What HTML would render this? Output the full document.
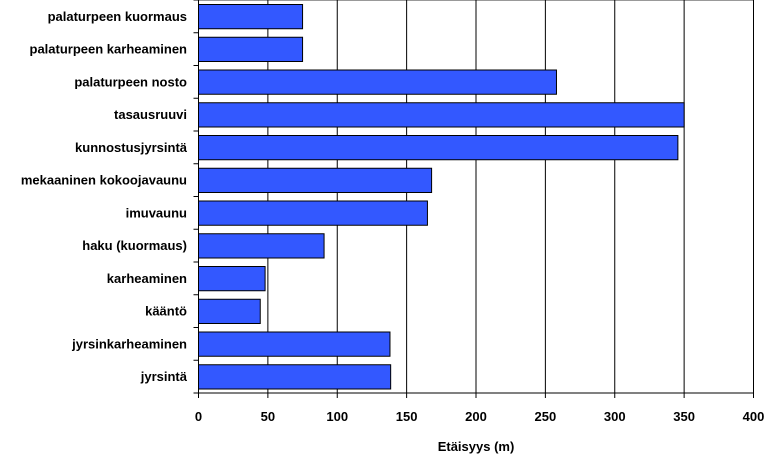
<!DOCTYPE html>
<html><head><meta charset="utf-8"><style>
html,body{margin:0;padding:0;background:#fff;}
svg{display:block;font-family:"Liberation Sans",Arial,sans-serif;font-weight:bold;}
</style></head><body>
<svg id="chart" width="772" height="462"></svg>
<script>
const categories=["palaturpeen kuormaus","palaturpeen karheaminen","palaturpeen nosto","tasausruuvi","kunnostusjyrsintä","mekaaninen kokoojavaunu","imuvaunu","haku (kuormaus)","karheaminen","kääntö","jyrsinkarheaminen","jyrsintä"];
const values=[75,75,258,350,345.5,168,165,90.5,48,44.5,138,138.5];
const ticks=[0,50,100,150,200,250,300,350,400];
const xTitle="Etäisyys (m)";

const NS="http://www.w3.org/2000/svg";
const svg=document.getElementById('chart');
const x0=198.5,x1=753.5,topY=0,bottom=393;
const rowH=(bottom-topY)/categories.length;
const xs=v=>x0+(v-0)/(400-0)*(x1-x0);
function mk(t,a,p){const e=document.createElementNS(NS,t);for(const k in a)e.setAttribute(k,a[k]);(p||svg).appendChild(e);return e;}

const topLine=mk('line',{x1:x0,y1:0.5,x2:x1,y2:0.5,stroke:'#999','stroke-width':1});



ticks.forEach(t=>{
  if(t>0){
    const g=mk('line',{x1:xs(t),y1:topY,x2:xs(t),y2:bottom,stroke:'#000','stroke-width':1});
    
    
  }
  const tk=mk('line',{x1:xs(t),y1:bottom,x2:xs(t),y2:bottom+5,stroke:'#000'});
  
  
  const lb=mk('text',{x:xs(t),y:421,'text-anchor':'middle','font-size':13,fill:'#000'});
  lb.textContent=t;
  
  
});

categories.forEach((c,i)=>{
  const y=topY+i*rowH;
  const b=mk('rect',{x:x0,y:y+4.5,width:xs(values[i])-x0,height:rowH-8.5,fill:'#3358ff',stroke:'#000','stroke-width':1});
  
  
  const lb=mk('text',{x:187,y:y+rowH/2+4.5,'text-anchor':'end','font-size':13,fill:'#000'});
  lb.textContent=c;
  
  
  const tk=mk('line',{x1:x0-5,y1:y,x2:x0,y2:y,stroke:'#000'});
  
  
});
const tkb=mk('line',{x1:x0-5,y1:bottom,x2:x0,y2:bottom,stroke:'#000'});



const ya=mk('line',{x1:x0,y1:topY,x2:x0,y2:bottom,stroke:'#000','stroke-width':1});


const xa=mk('line',{x1:x0,y1:bottom,x2:x1,y2:bottom,stroke:'#000','stroke-width':1});



const tt=mk('text',{x:476,y:451,'text-anchor':'middle','font-size':13,fill:'#000'});
tt.textContent=xTitle;


</script>
</body></html>
